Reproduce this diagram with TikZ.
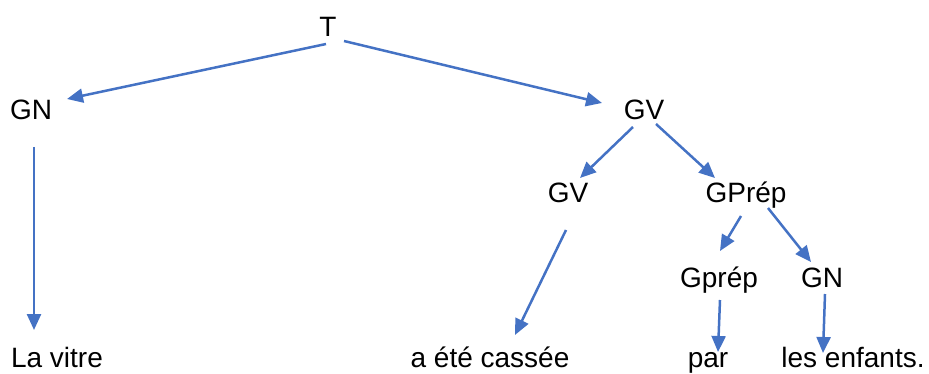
\documentclass[tikz,border=0pt]{standalone}
\usepackage{fontspec}
\setmainfont{Liberation Sans}
\usetikzlibrary{arrows.meta,calc}
\definecolor{arrowblue}{HTML}{4472C4}
\begin{document}
\begin{tikzpicture}[x=1pt,y=-1pt,
  lbl/.style={anchor=base,inner sep=0pt,font=\fontsize{28}{30}\selectfont},
  arr/.style={draw=arrowblue,line width=2.5pt,-{Triangle[length=16pt,width=14pt]}}]
\useasboundingbox (0,0) rectangle (929,374);
\node[lbl] (T) at (328,37) {T};
\node[lbl] (GN) at (31,120) {GN};
\node[lbl] (GVt) at (644,120) {GV};
\node[lbl] (GVm) at (568,203) {GV};
\node[lbl] (GPrep) at (746,203) {GPrép};
\node[lbl] (Gprep) at (719,287) {Gprép};
\node[lbl] (GNb) at (822,287) {GN};
\node[lbl] (vitre) at (57,367) {La vitre};
\node[lbl] (aete) at (490,367) {a été cassée};
\node[lbl] (par) at (708,367) {par};
\node[lbl] (enf) at (853,367) {les enfants.};
\draw[arr] ($(T.base)+(-2,7)$) -- ($(GN.base)+(36,-21)$);
\draw[arr] ($(T.base)+(16,4)$) -- ($(GVt.base)+(-42,-17)$);
\draw[arr] ($(GVt.base)+(-11,7)$) -- ($(GVm.base)+(12,-25)$);
\draw[arr] ($(GVt.base)+(12,4)$) -- ($(GPrep.base)+(-31,-25)$);
\draw[arr] ($(GPrep.base)+(-5,13)$) -- ($(Gprep.base)+(1,-36)$);
\draw[arr] ($(GPrep.base)+(22,5)$) -- ($(GNb.base)+(-11,-25)$);
\draw[arr] ($(GN.base)+(3,27)$) -- ($(vitre.base)+(-23,-37)$);
\draw[arr] ($(GVm.base)+(-2,27)$) -- ($(aete.base)+(25,-32)$);
\draw[arr] ($(Gprep.base)+(1,13)$) -- ($(par.base)+(10,-15)$);
\draw[arr] ($(GNb.base)+(3,7)$) -- ($(enf.base)+(-30,-14)$);
\end{tikzpicture}
\end{document}
